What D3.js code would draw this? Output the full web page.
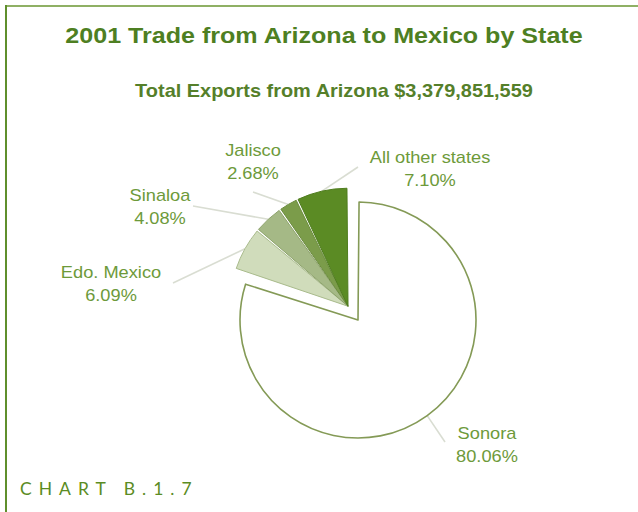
<!DOCTYPE html>
<html>
<head>
<meta charset="utf-8">
<script src="https://cdn.jsdelivr.net/npm/d3@7"></script>
<style>
  html, body { margin: 0; padding: 0; background: #fff; }
  svg { display: block; }
</style>
</head>
<body>
<svg id="chart" width="638" height="512"></svg>
<script>
// Export shares by Mexican state, clockwise from 12 o'clock
const states = ["Sonora", "Edo. Mexico", "Sinaloa", "Jalisco", "All other states"];
const shares = [80.06, 6.09, 4.08, 2.68, 7.10];
const shareLabels = ["80.06%", "6.09%", "4.08%", "2.68%", "7.10%"];

const titleText = "2001 Trade from Arizona to Mexico by State";
const subtitleText = "Total Exports from Arizona $3,379,851,559";
const chartTag = "CHART B.1.7";

// Styling and layout
const fills = ["#ffffff", "#d0dcbb", "#a5b986", "#7b9c4a", "#5b8b24"];
const strokes = ["#849a56", "#a9bb8c", "#8ca26a", "#6b8c3e", "#4f7d1e"];
const center = { x: 358, y: 320 };
const radius = 118;
const explode = 17;            // pull-out distance of the smaller states
const textStretch = 1.14;      // horizontal widening of the Arial-style text
const font = "Liberation Sans, Arial, sans-serif";
// label anchor (text centre) and leader end point near the label
const labelAt = [
  { x: 487, y: 433, lx: 445, ly: 442 },
  { x: 111, y: 272, lx: 173, ly: 283 },
  { x: 160, y: 195, lx: 193, ly: 206 },
  { x: 253, y: 150, lx: 253, ly: 192 },
  { x: 430, y: 157, lx: 358, ly: 167 }
];

const svg = d3.select("#chart");
const widen = cx => `translate(${cx},0) scale(${textStretch},1) translate(${-cx},0)`;

// frame
svg.append("line").attr("x1", 5).attr("y1", 6).attr("x2", 638).attr("y2", 6)
  .attr("stroke", "#8fb064").attr("stroke-width", 2.2);
svg.append("line").attr("x1", 6).attr("y1", 5).attr("x2", 6).attr("y2", 512)
  .attr("stroke", "#5f8f2c").attr("stroke-width", 2);

svg.append("text").attr("x", 324).attr("y", 43).attr("text-anchor", "middle")
  .attr("transform", widen(324))
  .attr("font-family", font).attr("font-weight", "bold")
  .attr("font-size", 22).attr("fill", "#4e7f22").text(titleText);
svg.append("text").attr("x", 334).attr("y", 97).attr("text-anchor", "middle")
  .attr("transform", widen(334))
  .attr("font-family", font).attr("font-weight", "bold")
  .attr("font-size", 17.5).attr("fill", "#557f2a").text(subtitleText);

const data = states.map((s, i) => ({ state: s, value: shares[i], label: shareLabels[i], i }));
const pie = d3.pie().value(d => d.value).sort(null);
const arcs = pie(data);

// direction in which the group of smaller slices is pulled out
const groupStart = arcs[1].startAngle, groupEnd = arcs[arcs.length - 1].endAngle;
const groupMid = (groupStart + groupEnd) / 2;
const off = { x: explode * Math.sin(groupMid), y: -explode * Math.cos(groupMid) };

const arcGen = d3.arc().innerRadius(0).outerRadius(radius).padAngle(0.018).padRadius(radius);

const originOf = d => d.index === 0 ? { x: center.x, y: center.y }
                                    : { x: center.x + off.x, y: center.y + off.y };

// leader lines (drawn first, underneath the slices)
svg.append("g").selectAll("line").data(arcs).join("line")
  .attr("x1", d => originOf(d).x + radius * Math.sin((d.startAngle + d.endAngle) / 2))
  .attr("y1", d => originOf(d).y - radius * Math.cos((d.startAngle + d.endAngle) / 2))
  .attr("x2", d => labelAt[d.index].lx)
  .attr("y2", d => labelAt[d.index].ly)
  .attr("stroke", "#d9ddd2").attr("stroke-width", 1.6);

svg.append("g").selectAll("path").data(arcs).join("path")
  .attr("transform", d => `translate(${originOf(d).x},${originOf(d).y})`)
  .attr("d", arcGen)
  .attr("fill", d => fills[d.index])
  .attr("stroke", d => strokes[d.index])
  .attr("stroke-width", d => d.index === 0 ? 1.6 : 1)
  .attr("stroke-linejoin", "round");

const lbl = svg.append("g").selectAll("text").data(arcs).join("text")
  .attr("text-anchor", "middle")
  .attr("transform", d => widen(labelAt[d.index].x))
  .attr("font-family", font)
  .attr("font-size", 16).attr("fill", "#6d9a3a");
lbl.append("tspan").attr("x", d => labelAt[d.index].x).attr("y", d => labelAt[d.index].y + 6)
  .text(d => d.data.state);
lbl.append("tspan").attr("x", d => labelAt[d.index].x).attr("y", d => labelAt[d.index].y + 29)
  .text(d => d.data.label);

svg.append("text").attr("x", 20).attr("y", 495)
  .attr("font-family", "Lato, 'Open Sans', sans-serif").attr("font-size", 17.5)
  .attr("letter-spacing", 7).attr("fill", "#5b8c23").text(chartTag);
</script>
</body>
</html>
